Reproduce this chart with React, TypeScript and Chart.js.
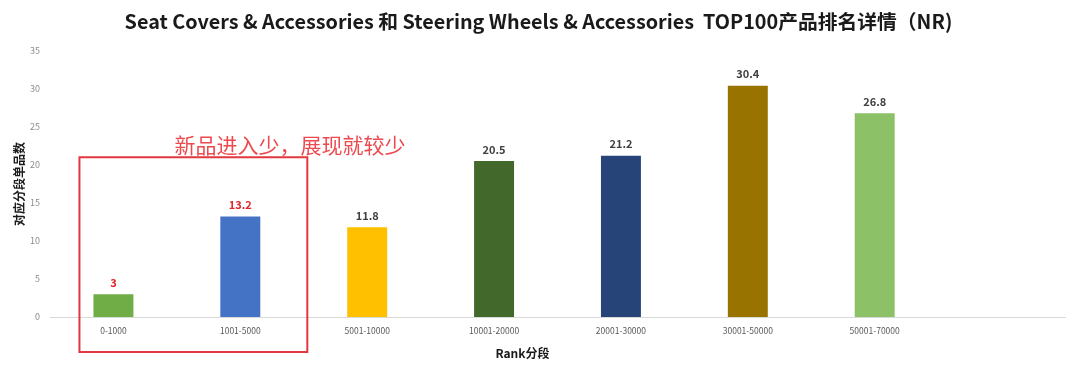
import React, { useEffect, useRef } from "react";
import { Chart, registerables } from "chart.js";

Chart.register(...registerables);

const categories = ["0-1000", "1001-5000", "5001-10000", "10001-20000", "20001-30000", "30001-50000", "50001-70000", ""];
const values = [3, 13.2, 11.8, 20.5, 21.2, 30.4, 26.8, null];
const barColors = ["#70ad47", "#4472c4", "#ffc000", "#43682b", "#264478", "#997300", "#8cc168", "#ffffff"];
const labelColors = ["#e0262b", "#e0262b", "#404040", "#404040", "#404040", "#404040", "#404040", "#404040"];
const yTicks = [0, 5, 10, 15, 20, 25, 30, 35];
const titleText = "Seat Covers & Accessories 和 Steering Wheels & Accessories  TOP100产品排名详情（NR)";
const yTitle = "对应分段单品数";
const xTitle = "Rank分段";
const noteText = "新品进入少，展现就较少";

const CJK = '"Noto Sans CJK SC", "Noto Sans", sans-serif';

const labelPlugin = {
  id: "barLabels",
  afterDatasetsDraw(chart: any) {
    const ctx = chart.ctx;
    const meta = chart.getDatasetMeta(0);
    ctx.save();
    ctx.font = `bold 11px ${CJK}`;
    ctx.textAlign = "center";
    ctx.textBaseline = "bottom";
    meta.data.forEach((el: any, i: number) => {
      const v = values[i];
      if (v == null) return;
      ctx.fillStyle = labelColors[i];
      ctx.fillText(String(v), el.x, el.y - 6);
    });
    ctx.restore();
  },
};

const notePlugin = {
  id: "note",
  afterDraw(chart: any) {
    const ctx = chart.ctx;
    const xs = chart.scales.x;
    const ys = chart.scales.y;
    const area = chart.chartArea;
    // x axis title
    ctx.save();
    ctx.fillStyle = "#1a1a1a";
    ctx.font = `bold 12px ${CJK}`;
    ctx.textAlign = "center";
    ctx.textBaseline = "middle";
    ctx.fillText(xTitle, (area.left + area.right) / 2 - 35, area.bottom + 36);
    ctx.restore();
    // annotation
    const left = xs.getPixelForValue(0) - 34;
    const right = xs.getPixelForValue(1) + 67;
    const top = ys.getPixelForValue(21) + 0;
    const bottom = chart.height - 13;
    ctx.save();
    ctx.strokeStyle = "#e0383e";
    ctx.lineWidth = 2;
    ctx.strokeRect(left, top, right - left, bottom - top);
    ctx.fillStyle = "#ec4a4f";
    ctx.font = `21px ${CJK}`;
    ctx.textAlign = "left";
    ctx.textBaseline = "alphabetic";
    ctx.fillText(noteText, left + 95, top - 4);
    ctx.restore();
  },
};

export default function App() {
  const ref = useRef<HTMLCanvasElement>(null);
  useEffect(() => {
    document.body.style.margin = "0";
    const chart = new Chart(ref.current!, {
      type: "bar",
      data: {
        labels: categories,
        datasets: [
          {
            data: values as any,
            backgroundColor: barColors,
            barPercentage: 0.63,
            categoryPercentage: 0.5,
          },
        ],
      },
      options: {
        responsive: false,
        animation: false,
        layout: { padding: { left: 12, right: 15, top: 0, bottom: 0 } },
        plugins: {
          legend: { display: false },
          tooltip: { enabled: false },
          title: {
            display: true,
            text: titleText,
            color: "#1a1a1a",
            font: { family: CJK, size: 19.8, weight: "bold" },
            padding: { top: 10, bottom: 17 },
          },
        },
        scales: {
          x: {
            grid: { display: false, drawTicks: false },
            border: { color: "#d9d9d9", width: 1 },
            ticks: { color: "#595959", font: { family: CJK, size: 8.5 }, padding: 9, maxRotation: 0, autoSkip: false },
            afterFit(scale: any) {
              scale.height = 48;
            },
          },
          y: {
            min: 0,
            max: 35,
            afterBuildTicks(scale: any) {
              scale.ticks = yTicks.map((v) => ({ value: v }));
            },
            grid: { display: false, drawTicks: false },
            border: { display: false },
            ticks: { color: "#8c8c8c", font: { family: CJK, size: 9 }, padding: 10 },
            title: { display: true, text: yTitle, color: "#1a1a1a", font: { family: CJK, size: 12, weight: "bold" }, padding: { top: 0, bottom: 2 } },
            afterFit(scale: any) {
              scale.width = 38;
            },
          },
        },
      },
      plugins: [labelPlugin, notePlugin],
    });
    return () => chart.destroy();
  }, []);
  return <canvas ref={ref} width={1080} height={365} style={{ display: "block" }} />;
}
